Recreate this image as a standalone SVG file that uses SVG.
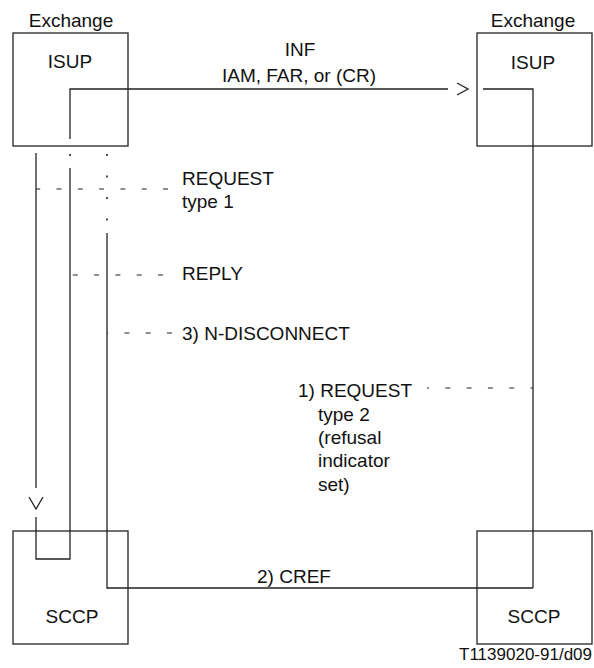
<svg xmlns="http://www.w3.org/2000/svg" width="594" height="668" viewBox="0 0 594 668">
<style>
  .box { fill: none; stroke: #333; stroke-width: 1.4; }
  .ln { fill: none; stroke: #222; stroke-width: 1.3; }
  .dash { fill: none; stroke: #222; stroke-width: 1.2; stroke-dasharray: 5 16.3; }
  .dot { fill: none; stroke: #222; stroke-width: 1.6; stroke-dasharray: 2 19.5; }
  text { font-family: "Liberation Sans", Arial, sans-serif; font-size: 19px; fill: #111; }
  .mid { text-anchor: middle; }
  .small { font-size: 17px; }
</style>
<rect width="594" height="668" fill="#fff"/>

<g id="exchange-left-isup">
  <rect class="box" x="13" y="33" width="115" height="113"/>
  <text class="mid" x="71" y="27">Exchange</text>
  <text class="mid" x="70" y="68">ISUP</text>
</g>
<g id="exchange-right-isup">
  <rect class="box" x="477" y="33" width="115" height="113"/>
  <text class="mid" x="533" y="27">Exchange</text>
  <text class="mid" x="533" y="69">ISUP</text>
</g>
<g id="left-sccp">
  <rect class="box" x="13" y="531" width="115" height="113"/>
  <text class="mid" x="72" y="623">SCCP</text>
</g>
<g id="right-sccp">
  <rect class="box" x="477" y="531" width="115" height="113"/>
  <text class="mid" x="534" y="623">SCCP</text>
</g>

<g id="connectors">
  <!-- INF: left ISUP to right ISUP, then down to right SCCP -->
  <path class="ln" d="M70 139 V89 H448"/>
  <path class="ln" d="M457 83 L468 89 L457 95"/>
  <path class="ln" d="M483 89 H533 V588"/>
  <!-- left outer line down to left SCCP -->
  <path class="ln" d="M36 153 V488"/>
  <path class="ln" d="M29 497 L36 509 L43 497"/>
  <path class="ln" d="M36 517 V559 H70 V168"/>
  <path class="dot" d="M70 154 V166"/>
  <!-- CREF line -->
  <path class="ln" d="M533 588 H107 V233"/>
  <path class="dot" d="M107 154 V228"/>
  <!-- dashed primitives -->
  <path class="dash" d="M168 189 H36"/>
  <path class="dash" d="M163 275 H70"/>
  <path class="dash" d="M172 333 H107"/>
  <path class="dash" style="stroke-dashoffset:3" d="M427 388 H533"/>
</g>

<g id="labels">
  <text class="mid" x="300" y="56">INF</text>
  <text class="mid" x="299" y="82">IAM, FAR, or (CR)</text>
  <text x="182" y="185">REQUEST</text>
  <text x="182" y="208">type 1</text>
  <text x="182" y="280">REPLY</text>
  <text x="182" y="340">3) N-DISCONNECT</text>
  <text x="298" y="397">1) REQUEST</text>
  <text x="318" y="421">type 2</text>
  <text x="318" y="444">(refusal</text>
  <text x="318" y="467">indicator</text>
  <text x="318" y="491">set)</text>
  <text class="mid" x="294" y="583">2) CREF</text>
  <text class="small" x="592" y="660" text-anchor="end">T1139020-91/d09</text>
</g>
</svg>
